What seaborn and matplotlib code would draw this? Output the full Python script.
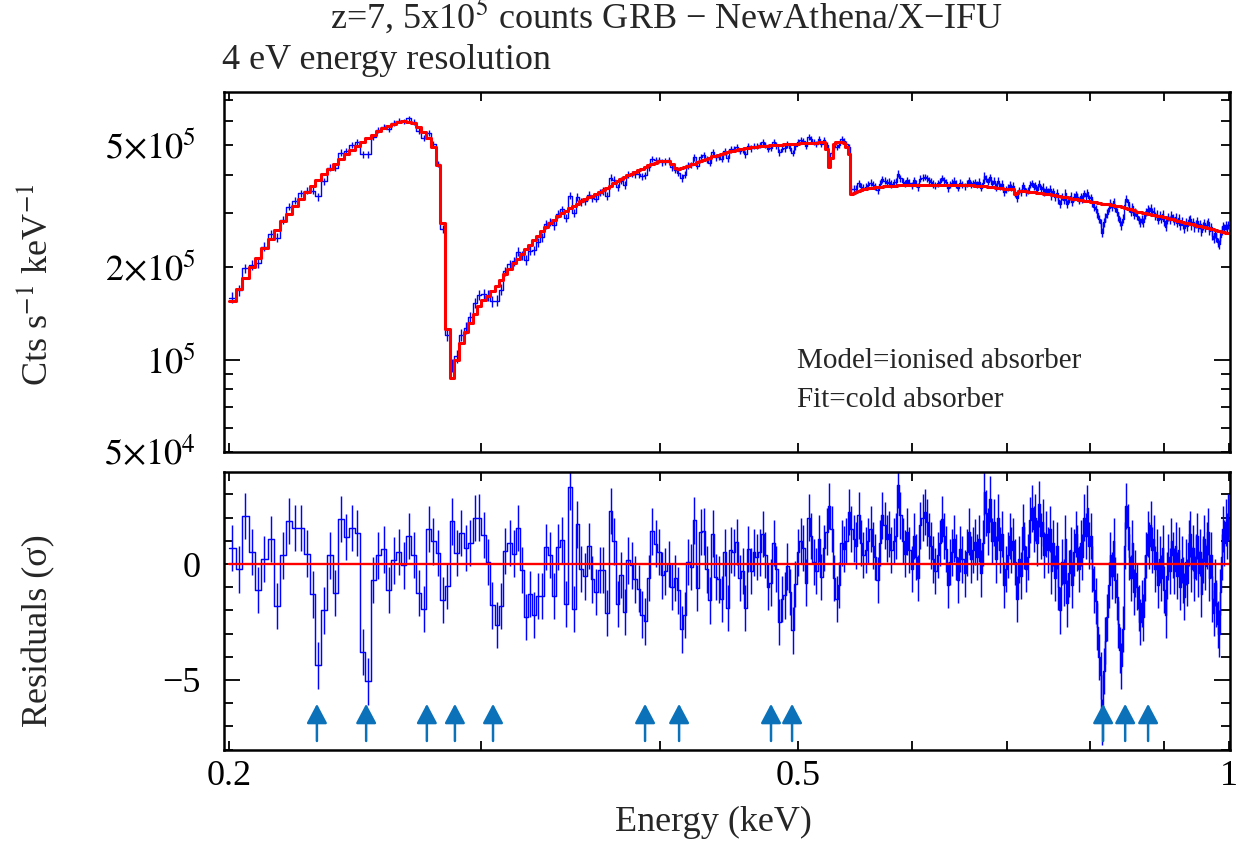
import numpy as np
import matplotlib
matplotlib.use("Agg")
import matplotlib.pyplot as plt
import seaborn as sns
from matplotlib.ticker import FixedLocator, FixedFormatter, NullFormatter

# ---------------- data ----------------
E_MIN, E_MAX, N_BINS = 0.2, 1.0, 375          # keV, energy grid of the spectrum
TOTAL_COUNTS = 5e5                            # "5x10^5 counts"

# best-fit model, counts s^-1 keV^-1 in units of 1e5, one value per bin
model_1e5 = [
    1.55, 1.70, 1.84, 2.00, 2.15, 2.32, 2.48, 2.65, 2.83, 2.99,
    3.16, 3.34, 3.51, 3.69, 3.85, 4.02, 4.19, 4.36, 4.52, 4.67,
    4.82, 4.97, 5.12, 5.27, 5.42, 5.55, 5.68, 5.79, 5.88, 5.95,
    5.99, 5.97, 5.90, 5.72, 5.52, 5.30, 4.92, 4.30, 2.80, 1.26,
    0.87, 1.00, 1.13, 1.23, 1.32, 1.41, 1.50, 1.56, 1.61, 1.67,
    1.74, 1.82, 1.90, 1.98, 2.06, 2.13, 2.21, 2.29, 2.37, 2.45,
    2.53, 2.62, 2.70, 2.78, 2.86, 2.93, 3.00, 3.06, 3.12, 3.18,
    3.23, 3.28, 3.33, 3.38, 3.42, 3.47, 3.53, 3.58, 3.63, 3.69,
    3.76, 3.82, 3.88, 3.93, 3.99, 4.04, 4.09, 4.14, 4.20, 4.25,
    4.30, 4.35, 4.39, 4.43, 4.45, 4.46, 4.46, 4.35, 4.22, 4.19,
    4.21, 4.25, 4.29, 4.33, 4.36, 4.40, 4.44, 4.48, 4.52, 4.56,
    4.60, 4.63, 4.66, 4.69, 4.72, 4.75, 4.78, 4.80, 4.83, 4.85,
    4.87, 4.89, 4.91, 4.92, 4.93, 4.95, 4.96, 4.97, 4.98, 4.99,
    5.00, 5.01, 5.02, 5.03, 5.03, 5.04, 5.04, 5.05, 5.05, 5.06,
    5.06, 5.07, 5.07, 5.08, 5.08, 5.09, 5.10, 5.10, 5.11, 5.11,
    5.12, 4.85, 4.25, 4.55, 5.05, 5.12, 5.13, 5.12, 5.08, 4.95,
    4.70, 3.47, 3.50, 3.53, 3.56, 3.58, 3.60, 3.61, 3.62, 3.63,
    3.64, 3.65, 3.65, 3.66, 3.66, 3.67, 3.67, 3.68, 3.68, 3.69,
    3.69, 3.70, 3.70, 3.70, 3.71, 3.71, 3.71, 3.71, 3.72, 3.72,
    3.72, 3.72, 3.72, 3.72, 3.72, 3.72, 3.72, 3.72, 3.72, 3.72,
    3.72, 3.72, 3.72, 3.72, 3.72, 3.72, 3.72, 3.72, 3.71, 3.71,
    3.71, 3.71, 3.71, 3.70, 3.70, 3.70, 3.70, 3.69, 3.69, 3.69,
    3.68, 3.68, 3.67, 3.67, 3.66, 3.66, 3.65, 3.65, 3.64, 3.63,
    3.62, 3.62, 3.61, 3.61, 3.60, 3.60, 3.59, 3.59, 3.48, 3.50,
    3.55, 3.56, 3.55, 3.54, 3.54, 3.53, 3.53, 3.52, 3.52, 3.51,
    3.50, 3.50, 3.49, 3.49, 3.48, 3.47, 3.47, 3.46, 3.45, 3.45,
    3.44, 3.43, 3.42, 3.41, 3.40, 3.40, 3.39, 3.38, 3.37, 3.36,
    3.35, 3.34, 3.34, 3.33, 3.32, 3.32, 3.31, 3.30, 3.30, 3.29,
    3.28, 3.27, 3.27, 3.26, 3.26, 3.25, 3.25, 3.24, 3.23, 3.23,
    3.22, 3.21, 3.21, 3.20, 3.19, 3.19, 3.18, 3.17, 3.17, 3.16,
    3.15, 3.14, 3.13, 3.12, 3.11, 3.10, 3.09, 3.08, 3.07, 3.06,
    3.04, 3.03, 3.03, 3.02, 3.01, 3.01, 3.00, 2.99, 2.99, 2.98,
    2.97, 2.96, 2.96, 2.95, 2.94, 2.94, 2.93, 2.92, 2.92, 2.91,
    2.90, 2.89, 2.88, 2.88, 2.87, 2.86, 2.85, 2.84, 2.84, 2.83,
    2.82, 2.81, 2.80, 2.80, 2.79, 2.78, 2.77, 2.76, 2.76, 2.75,
    2.74, 2.73, 2.73, 2.72, 2.72, 2.71, 2.70, 2.70, 2.69, 2.69,
    2.68, 2.67, 2.66, 2.66, 2.65, 2.64, 2.63, 2.63, 2.62, 2.61,
    2.60, 2.60, 2.59, 2.59, 2.58,
]

# residuals (data - model) / sigma, one value per bin
residuals = [
    0.69, -0.23, 2.07, 0.52, -1.13, 0.23, 1.09, -1.81, 0.37, 1.85,
    1.55, 1.55, 0.45, -1.31, -4.37, -2.00, 0.37, -1.25, 1.95, 1.16,
    1.55, 1.34, -3.79, -5.06, -0.68, 0.37, 0.63, -1.13, 0.16, 0.52,
    -0.06, 1.21, 0.40, -1.25, -1.93, 1.52, 0.98, 0.47, -1.54, -0.95,
    1.84, 0.47, 1.35, 0.69, 0.91, 1.98, 2.00, 1.24, 0.09, -1.78,
    -2.64, -1.81, 0.55, 0.92, 0.45, 1.55, -0.27, -2.28, -1.28, -2.21,
    -1.38, -1.38, 0.73, 0.40, -1.38, 0.73, 1.02, -1.71, 3.32, -1.93,
    1.71, -0.20, -0.53, 0.78, -0.66, -1.21, -0.27, -0.27, -2.10, 2.28,
    0.98, -1.71, -0.46, -2.07, 0.16, -0.06, -0.66, -1.06, -2.18, -2.47,
    -0.59, 1.41, 0.88, 0.52, -0.49, -0.32, 0.01, -0.99, -0.60, -1.14,
    -2.82, -2.21, 0.09, -0.13, 1.88, -1.03, 1.38, 1.41, -0.23, -1.57,
    1.31, -0.56, -0.66, -1.50, 0.50, -1.90, 0.60, 0.50, 0.95, -0.60,
    -0.30, -1.90, 0.66, -0.30, 0.50, 0.30, 0.50, 1.30, 0.40, -1.00,
    -0.80, 0.90, -0.20, -2.50, -1.50, -1.35, -0.10, -1.20, -2.86, -0.85,
    0.50, 1.00, 0.70, -0.80, 2.00, 1.20, 0.10, -0.30, 1.10, -0.56,
    0.70, 1.40, 2.50, 1.50, -0.60, -1.50, -0.90, 0.90, 0.66, 1.00,
    2.25, 1.50, 1.10, 0.80, 2.10, 0.90, 0.40, 0.60, 1.00, 1.50,
    0.80, 0.30, -0.70, 0.90, 2.10, 1.67, 1.10, 1.30, 0.60, 1.00,
    1.20, 3.40, 2.10, 1.00, 0.45, 1.40, 0.60, -0.20, 1.20, 0.30,
    -0.60, 1.67, 2.00, 2.25, 1.80, 1.20, 0.80, 0.20, -0.30, 0.40,
    0.90, 1.95, 1.20, 0.66, -0.90, 0.10, 0.50, 1.10, 0.30, -0.70,
    0.66, 0.20, -0.40, 0.50, 1.40, 0.20, 0.60, 0.95, 0.30, 1.10,
    -0.40, 0.90, 3.10, 2.20, 1.40, 2.80, 1.00, 1.80, 0.20, 2.00,
    0.60, 1.30, -0.90, -0.20, 0.40, 1.20, 0.60, 1.00, 0.10, -1.50,
    0.20, -0.50, 1.60, 0.80, -0.20, 0.30, 1.90, 2.40, 1.50, 2.00,
    0.90, 2.60, 1.20, 1.80, 0.40, 1.30, 0.60, 1.50, -0.30, 0.90,
    -0.60, 0.80, -1.00, -2.00, 0.10, -0.80, 1.10, -1.70, -0.40, 0.60,
    -0.90, 0.50, 1.30, 0.70, -0.20, 0.90, 0.30, 2.00, 1.20, 2.40,
    0.80, 1.20, -0.20, -1.10, -1.60, -2.70, -4.00, -4.80, -6.80, -4.60,
    -3.30, -2.30, -0.90, 0.40, -0.50, 1.00, -0.70, -1.40, -2.60, -3.70,
    -4.40, -2.80, 0.80, 2.50, 1.60, 0.30, -0.60, 0.90, -1.20, -0.40,
    -1.00, -1.90, -2.50, -1.70, -2.30, -0.60, 0.40, 1.30, 0.80, 1.70,
    0.60, 1.10, -0.20, 0.50, -0.90, 0.20, -0.60, 0.70, -1.10, -2.20,
    -0.50, 0.30, -0.30, 1.00, 0.40, -0.30, 0.80, -0.50, 0.60, -1.00,
    0.20, -0.70, -1.40, 0.10, -0.80, 0.90, 1.30, -0.20, 0.70, -0.60,
    0.30, 1.20, -0.40, 0.50, -1.30, 0.20, 1.10, -0.10, 0.80, 1.40,
    -0.60, 0.40, -1.50, -2.10, -0.80, -1.70, -2.60, -3.00, -1.20, 0.30,
    1.50, 0.90, 1.80, 1.20, 2.00,
]

# energies of the marked absorption lines (keV)
arrow_energies = [0.2304, 0.2494, 0.2750, 0.2877, 0.3059, 0.3907,
                  0.4127, 0.4785, 0.4950, 0.8166, 0.8461, 0.8779]

assert len(model_1e5) == N_BINS and len(residuals) == N_BINS

# ---------------- derived quantities ----------------
edges = np.linspace(E_MIN, E_MAX, N_BINS + 1)
centers = 0.5 * (edges[:-1] + edges[1:])
width = edges[1] - edges[0]
model = np.asarray(model_1e5) * 1e5
resid = np.asarray(residuals)
exposure = TOTAL_COUNTS / np.sum(model * width)
counts = model * width * exposure
sigma = model / np.sqrt(counts)
data = model + resid * sigma

# ---------------- style ----------------
sns.set_theme(style="ticks")
plt.rcParams["font.family"] = ["Liberation Serif", "DejaVu Serif"]
plt.rcParams["mathtext.fontset"] = "stix"
plt.rcParams["axes.linewidth"] = 1.8
plt.rcParams["axes.edgecolor"] = "black"

BLUE = "#0000ff"
RED = "#ff0000"
ARROW = "#0b72ba"

fig = plt.figure(figsize=(12.43, 8.41), dpi=100)
ax1 = fig.add_axes([0.18021, 0.46254, 0.80933, 0.42806])
ax2 = fig.add_axes([0.18021, 0.10820, 0.80933, 0.33056])

for ax in (ax1, ax2):
    ax.set_xscale("log")
ax1.set_yscale("log")

# top panel: data + model
sns.lineplot(x=edges, y=np.append(data, data[-1]), drawstyle="steps-post",
             estimator=None, sort=False, color=BLUE, lw=1.0, ax=ax1)
ax1.errorbar(centers, data, yerr=sigma, fmt="none", ecolor=BLUE, elinewidth=1.0)
sns.lineplot(x=edges, y=np.append(model, model[-1]), drawstyle="steps-post",
             estimator=None, sort=False, color=RED, lw=2.2, ax=ax1)

# bottom panel: residuals
sns.lineplot(x=edges, y=np.append(resid, resid[-1]), drawstyle="steps-post",
             estimator=None, sort=False, color=BLUE, lw=1.05, ax=ax2)
ax2.errorbar(centers, resid, yerr=np.ones_like(resid), fmt="none", ecolor=BLUE, elinewidth=1.05)
sns.lineplot(x=edges, y=np.zeros_like(edges), estimator=None, sort=False,
             color=RED, lw=1.7, ax=ax2)

ARROW_TIP, ARROW_TAIL = -6.03, -7.63
for e in arrow_energies:
    ax2.annotate("", xy=(e, ARROW_TIP), xytext=(e, ARROW_TAIL),
                 arrowprops=dict(arrowstyle="-|>,head_width=0.45,head_length=0.85",
                                 color=ARROW, lw=1.8, shrinkA=0, shrinkB=0,
                                 mutation_scale=14))

# limits
for ax in (ax1, ax2):
    ax.set_xlim(0.1984, 1.0016)
ax1.set_ylim(5e4, 7.46e5)
ax2.set_ylim(-8.02, 3.97)

# ticks
for ax in (ax1, ax2):
    ax.xaxis.set_major_locator(FixedLocator([0.2, 0.5, 1.0]))
    ax.xaxis.set_minor_locator(FixedLocator([0.3, 0.4, 0.6, 0.7, 0.8, 0.9]))
    ax.xaxis.set_minor_formatter(NullFormatter())
    ax.tick_params(which="both", direction="in", top=True, right=True,
                   width=1.3, length=6.5, color="black", labelsize=26, labelcolor="black")
    ax.tick_params(axis="y", which="major", length=11.5)
    ax.tick_params(axis="x", which="major", length=6.5, pad=7)
ax1.xaxis.set_major_formatter(NullFormatter())
ax2.xaxis.set_major_formatter(FixedFormatter(["0.2", "0.5", "1"]))

ax1.yaxis.set_major_locator(FixedLocator([1e5]))
ax1.yaxis.set_major_formatter(FixedFormatter([r"$10^{5}$"]))
ax1.yaxis.set_minor_locator(FixedLocator([5e4, 6e4, 7e4, 8e4, 9e4, 2e5, 3e5, 4e5, 5e5, 6e5, 7e5]))
ax1.yaxis.set_minor_formatter(FixedFormatter([r"$5{\times}10^{4}$", "", "", "", "",
                                              r"$2{\times}10^{5}$", "", "",
                                              r"$5{\times}10^{5}$", "", ""]))
ax1.tick_params(axis="y", which="both", pad=20)

ax2.yaxis.set_major_locator(FixedLocator([-5, 0]))
ax2.yaxis.set_major_formatter(FixedFormatter(["\u22125", "0"]))
ax2.yaxis.set_minor_locator(FixedLocator([-8, -7, -6, -4, -3, -2, -1, 1, 2, 3]))
ax2.yaxis.set_minor_formatter(NullFormatter())
ax2.tick_params(axis="y", which="both", pad=17)

# labels
ax1.set_ylabel("Cts s$^{-1}$ keV$^{-1}$", fontsize=26, va="center")
ax1.yaxis.set_label_coords(-0.185, 0.464)
ax2.set_ylabel("Residuals (\u03c3)", fontsize=26, va="center")
ax2.yaxis.set_label_coords(-0.184, 0.428)
ax2.set_xlabel("Energy (keV)", fontsize=26, va="center")
ax2.xaxis.set_label_coords(0.487, -0.259)
ax1.set_xlabel("")

fig.text(667 / 1243, 1 - 29 / 841, "z=7, 5x10$^{5}$ counts GRB \u2212 NewAthena/X\u2212IFU",
         ha="center", va="baseline", fontsize=26)
fig.text(222 / 1243, 1 - 69 / 841, "4 eV energy resolution",
         ha="left", va="baseline", fontsize=26)
fig.text(797 / 1243, 1 - 368 / 841, "Model=ionised absorber",
         ha="left", va="baseline", fontsize=21)
fig.text(797 / 1243, 1 - 407 / 841, "Fit=cold absorber",
         ha="left", va="baseline", fontsize=21)

for ax in (ax1, ax2):
    for s in ax.spines.values():
        s.set_linewidth(1.8)
        s.set_color("black")

fig.savefig("out.png", dpi=100)
